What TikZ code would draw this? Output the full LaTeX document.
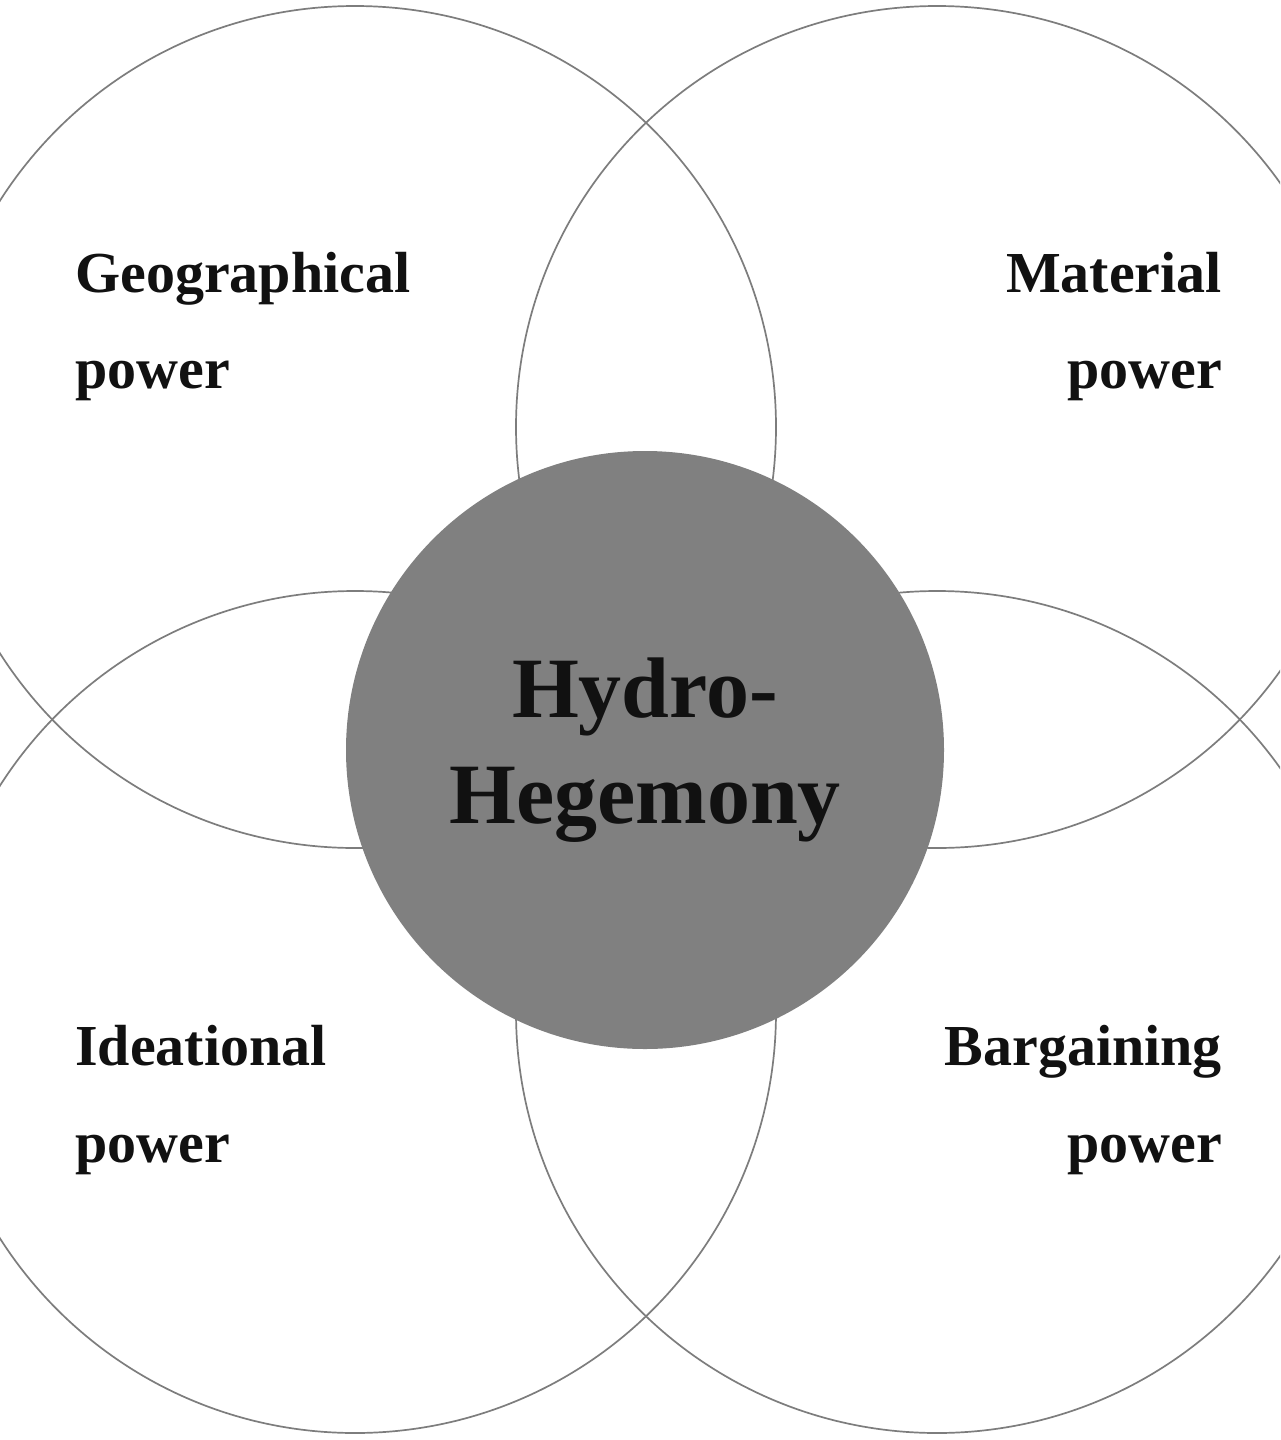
\documentclass[tikz,border=0pt]{standalone}
\usepackage{fontspec}
\setmainfont{Liberation Serif}
\definecolor{ringgray}{RGB}{125,125,125}
\definecolor{hubgray}{RGB}{128,128,128}
\definecolor{inkblack}{RGB}{17,17,17}
\begin{document}
\begin{tikzpicture}[x=1pt,y=-1pt,
  ring/.style={circle,draw=ringgray,line width=1.7pt,minimum size=842pt,inner sep=0pt,outer sep=0pt},
  hubstyle/.style={circle,fill=hubgray,minimum size=598pt,inner sep=0pt,outer sep=0pt,
     align=center,text=inkblack,font=\fontsize{86}{106}\selectfont\bfseries},
  lbl/.style={inner sep=0pt,text=inkblack,font=\fontsize{58}{70}\selectfont\bfseries}]
\useasboundingbox[fill=white] (0,0) rectangle (1280,1440);
\begin{scope}
\clip (0,0) rectangle (1280,1440);
\node[ring] (geo) at (355,427) {};
\node[ring] (mat) at (937,427) {};
\node[ring] (ide) at (355,1012) {};
\node[ring] (bar) at (937,1012) {};
\end{scope}
\node[hubstyle] (hub) at (645,750) {Hydro-\\Hegemony};
\node[lbl,anchor=base west] (geo1) at (75,292) {Geographical};
\node[lbl,anchor=base west] (geo2) at (75,388) {power};
\node[lbl,anchor=base east] (mat1) at (1222,292) {Material};
\node[lbl,anchor=base east] (mat2) at (1222,388) {power};
\node[lbl,anchor=base west] (ide1) at (75,1065) {Ideational};
\node[lbl,anchor=base west] (ide2) at (75,1162) {power};
\node[lbl,anchor=base east] (bar1) at (1222,1065) {Bargaining};
\node[lbl,anchor=base east] (bar2) at (1222,1162) {power};
\end{tikzpicture}
\end{document}
